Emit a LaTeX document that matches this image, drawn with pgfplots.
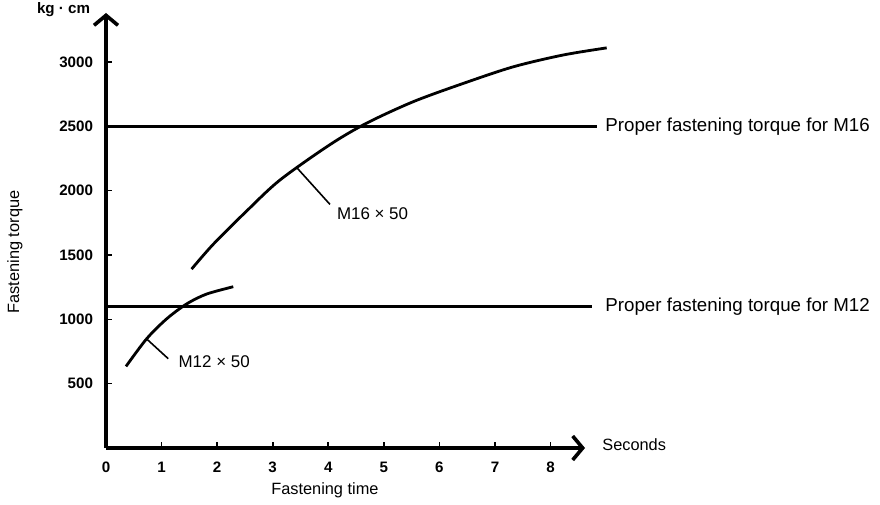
\documentclass[border=0pt]{standalone}
\usepackage{pgfplots}
\pgfplotsset{compat=1.18}
\usetikzlibrary{arrows.meta}
\usepackage{fontspec}
\setmainfont{Liberation Sans}

\begin{document}
\begin{tikzpicture}
\begin{axis}[
    scale only axis,
    width=239.5bp, height=217.5bp,
    xmin=0, xmax=8.62,
    ymin=0, ymax=3380,
    clip=false,
    axis lines=left,
    axis line style={line width=1.8bp, -{Straight Barb[length=5bp,width=12bp]}},
    xtick={0,1,...,8},
    ytick={500,1000,1500,2000,2500,3000},
    tick align=inside,
    major tick length=3bp,
    tick style={line width=0.8bp, black},
    scaled ticks=false,
    /pgf/number format/1000 sep={},
    /pgf/number format/assume math mode=true,
    ticklabel style={font=\bfseries\fontsize{7.6}{9}\selectfont},
    xticklabel style={yshift=-3.5bp},
    yticklabel style={xshift=-3bp},
    xlabel={Fastening time},
    ylabel={Fastening torque},
    label style={font=\fontsize{8.2}{10}\selectfont},
    xlabel style={at={(axis description cs:0.457,-0.0966)}, anchor=center},
    ylabel style={at={(axis description cs:-0.19,0.4506)}, anchor=center, rotate=0},
]
% proper torque levels
\addplot[black, line width=1.3bp] coordinates {(0,2500) (8.83,2500)};
\addplot[black, line width=1.3bp] coordinates {(0,1100) (8.75,1100)};

% M16 x 50
\addplot[black, line width=1.4bp, smooth] coordinates {
    (1.54,1390) (1.93,1583) (2.53,1841) (3.13,2082)
    (4.03,2357) (4.69,2524) (5.53,2691) (6.43,2833) (7.33,2962)
    (8.22,3053) (9.01,3109)
};
% M12 x 50
\addplot[black, line width=1.4bp, smooth] coordinates {
    (0.36,634) (0.73,848) (1.09,1003) (1.45,1119) (1.81,1196) (2.29,1253)
};

% leader lines
\addplot[black, line width=0.8bp] coordinates {(3.43,2180) (4.03,1893)};
\addplot[black, line width=0.8bp] coordinates {(0.73,848) (1.12,694)};

\node[anchor=west, font=\fontsize{8.5}{10}\selectfont, inner sep=0pt] at (axis cs:4.15,1820) {M16 × 50};
\node[anchor=west, font=\fontsize{8.5}{10}\selectfont, inner sep=0pt] at (axis cs:1.30,667) {M12 × 50};
\node[anchor=west, font=\fontsize{9.4}{11}\selectfont, inner sep=0pt] at (axis cs:8.98,2500) {Proper fastening torque for M16};
\node[anchor=west, font=\fontsize{9.4}{11}\selectfont, inner sep=0pt] at (axis cs:8.98,1100) {Proper fastening torque for M12};
\node[anchor=west, font=\fontsize{8.2}{10}\selectfont, inner sep=0pt] at (axis description cs:1.0355,0.007) {Seconds};
\node[font=\bfseries\fontsize{7.6}{9}\selectfont, inner sep=0pt] at (axis description cs:-0.0887,1.008) {kg · cm};
\end{axis}
\useasboundingbox (-53bp,-27bp) rectangle (387bp,224bp);
\end{tikzpicture}
\end{document}
